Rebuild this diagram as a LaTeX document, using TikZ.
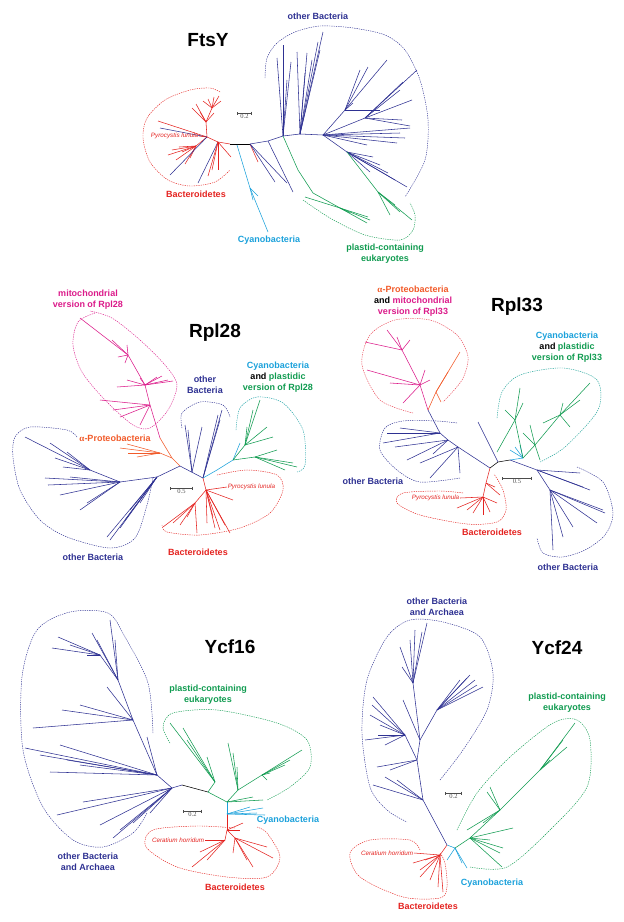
\documentclass[tikz,border=0pt]{standalone}
\usepackage{fontspec}
\setmainfont{Liberation Sans}
\newfontfamily\barfont{Liberation Serif}
\usetikzlibrary{arrows.meta,positioning}
\definecolor{navy}{HTML}{2E3192}
\definecolor{bacred}{HTML}{E42320}
\definecolor{cyano}{HTML}{1BA1DB}
\definecolor{plastid}{HTML}{109B50}
\definecolor{mito}{HTML}{DB1B8A}
\definecolor{alphap}{HTML}{F15A29}
\begin{document}
\begin{tikzpicture}[x=1pt,y=-1pt,line width=0.55pt,
   hull/.style={dash pattern=on 1.3pt off 1pt,line width=0.45pt},
   ttl/.style={font=\fontsize{19}{19}\selectfont\bfseries,inner sep=0pt},
   lbl/.style={font=\fontsize{9}{11}\selectfont\bfseries,align=center,inner sep=0pt},
   spc/.style={font=\fontsize{6.3}{7}\selectfont\itshape,text=bacred,inner sep=0.5pt},
   sbar/.style={{Bar[width=3pt]}-{Bar[width=3pt]},black!70,line width=0.6pt},
   sval/.style={font=\barfont\fontsize{6.5}{7}\selectfont,below=1pt,inner sep=0pt}]
  \useasboundingbox (0,0) rectangle (624,922);

  % ---------------- FtsY ----------------
  \node[ttl] (ftsy) at (208,40) {FtsY};
  \coordinate (sf1) at (237,113); \coordinate (sf2) at (252,113);
  \draw[sbar] (sf1) -- (sf2) node[sval,midway] {0.2};
  \coordinate (f0) at (230,144);  \coordinate (f1) at (250,144);
  \coordinate (fr1) at (218,142); \coordinate (fr2) at (207,137);
  \coordinate (fr3) at (206,122); \coordinate (fr4) at (212,108);
  \coordinate (fr5) at (196,146);
  \coordinate (fb1) at (268,141); \coordinate (fb2) at (283,136);
  \coordinate (fb3) at (300,134); \coordinate (fb4) at (323,135);
  \coordinate (fh1) at (345,110); \coordinate (fh2) at (365,118);
  \coordinate (fh3) at (347,152);
  \coordinate (fc1) at (237,145); \coordinate (fc2) at (250,188);
  \coordinate (fg1) at (298,170); \coordinate (fg2) at (313,193);
  \coordinate (fg3) at (340,208); \coordinate (fg4) at (378,192);
  \draw (f0) -- (f1);
  \draw[bacred] (f0) -- (fr1) -- (fr2) -- (fr3) -- (fr4);
  \foreach \p in {(192,108),(196,104),(200,112),(214,113)} \draw[bacred] (fr3) -- \p;
  \foreach \p in {(203,101),(208,99),(214,97),(219,96),(221,101)} \draw[bacred] (fr4) -- \p;
  \draw[bacred] (fr2) -- (158,121);
  \draw[navy] (fr2) -- (160,128);
  \draw[bacred] (fr2) -- (199,136) node[spc,anchor=east] {Pyrocystis lunula};
  \draw[bacred] (fr2) -- (fr5);
  \foreach \p in {(168,155),(172,150),(176,160),(182,152),(185,164),(190,158),(179,147)} \draw[bacred] (fr5) -- \p;
  \draw[navy] (fr2) -- (170,175);
  \draw[navy] (fr1) -- (198,183);
  \foreach \p in {(208,176),(212,170),(218,170),(231,157)} \draw[bacred] (fr1) -- \p;
  \draw[cyano] (fc1) -- (fc2) -- (268,232);
  \foreach \p in {(253,200),(258,196)} \draw[cyano] (fc2) -- \p;
  \draw[bacred] (f1) -- (258,162);
  \foreach \p in {(275,182),(287,183)} \draw[navy] (f1) -- \p;
  \draw[navy] (fb1) -- (293,192);
  \draw[navy] (f1) -- (fb1) -- (fb2) -- (fb3) -- (fb4);
  \foreach \p in {(283,45),(277,58),(287,80),(291,62)} \draw[navy] (fb2) -- \p;
  \foreach \p in {(297,52),(305,73),(307,53),(312,60),(318,42),(320,50),(323,32)} \draw[navy] (fb3) -- \p;
  \draw[navy] (fb4) -- (fh1) (fb4) -- (fh2) (fb4) -- (fh3);
  \foreach \p in {(387,60),(368,67),(360,70),(353,103),(380,110)} \draw[navy] (fh1) -- \p;
  \foreach \p in {(417,70),(403,82),(400,90),(412,100),(402,120),(410,126)} \draw[navy] (fh2) -- \p;
  \foreach \p in {(410,128),(400,133),(405,138),(397,143),(367,145)} \draw[navy] (fb4) -- \p;
  \foreach \p in {(373,157),(380,165),(388,173),(395,180),(407,187),(370,172)} \draw[navy] (fh3) -- \p;
  \draw[plastid] (fb2) -- (fg1) -- (fg2) -- (fg3) -- (370,220);
  \foreach \p in {(305,197),(350,213),(368,217),(367,223)} \draw[plastid] (fg3) -- \p;
  \draw[plastid] (fh3) -- (fg4) -- (412,220);
  \foreach \p in {(390,215),(400,212),(395,205)} \draw[plastid] (fg4) -- \p;
  \draw[hull,navy] plot[smooth] coordinates {(265,78) (267,58) (277,43) (295,32) (320,26)
     (353,28) (385,35) (405,50) (420,80) (428,120) (425,160) (405,197)};
  \draw[hull,bacred] plot[smooth] coordinates {(220,92) (210,88) (190,90) (165,100) (147,118)
     (143,138) (150,162) (168,180) (190,186) (215,182) (230,170)};
  \draw[hull,plastid] plot[smooth] coordinates {(303,200) (330,218) (365,235) (400,240)
     (413,230) (415,215) (410,203)};
  \node[lbl,text=navy] (fobac) at (318,16) {other Bacteria};
  \node[lbl,text=bacred] (fbact) at (196,194) {Bacteroidetes};
  \node[lbl,text=cyano] (fcyan) at (269,240) {Cyanobacteria};
  \node[lbl,text=plastid] (fplas) at (385,254) {plastid-containing\\eukaryotes};

  % ---------------- Rpl28 ----------------
  \node[ttl] (rpl28) at (215,333) {Rpl28};
  \coordinate (sr1) at (170,488); \coordinate (sr2) at (193,488);
  \draw[sbar] (sr1) -- (sr2) node[sval,midway] {0.5};
  \coordinate (r0) at (180,466);  \coordinate (r1) at (203,478);
  \coordinate (rmid) at (192,472);
  \coordinate (ra1) at (172,458); \coordinate (ra2) at (160,438);
  \coordinate (ro) at (160,453);
  \coordinate (rm1) at (150,405); \coordinate (rm2) at (145,385);
  \coordinate (rm3) at (128,355);
  \coordinate (rl1) at (157,477); \coordinate (rl2) at (120,482);
  \coordinate (rl3) at (90,470);
  \coordinate (rc1) at (217,470); \coordinate (rc2) at (233,460);
  \coordinate (rg1) at (245,445); \coordinate (rg2) at (255,457);
  \coordinate (rr1) at (206,490); \coordinate (rr2) at (195,503);
  \draw[navy] (r0) -- (r1);
  \draw[alphap] (r0) -- (ra1) -- (ra2);
  \draw[alphap] (ra1) -- (ro);
  \foreach \p in {(120,448),(127,444),(128,453),(137,457)} \draw[alphap] (ro) -- \p;
  \draw[mito] (ra2) -- (rm1) -- (rm2) -- (rm3) -- (80,318);
  \foreach \p in {(100,400),(113,410),(120,417),(140,425)} \draw[mito] (rm1) -- \p;
  \foreach \p in {(117,387),(127,380),(140,378),(157,377),(162,376),(168,380),(173,381)} \draw[mito] (rm2) -- \p;
  \foreach \p in {(127,345),(125,363),(118,357),(112,340)} \draw[mito] (rm3) -- \p;
  \draw[navy] (r0) -- (rl1) -- (rl2) -- (rl3);
  \foreach \p in {(25,437),(50,443),(67,452),(63,467),(55,458)} \draw[navy] (rl3) -- \p;
  \foreach \p in {(48,485),(45,478),(70,477),(80,510),(87,503),(60,495)} \draw[navy] (rl2) -- \p;
  \foreach \p in {(107,537),(110,540),(125,520),(130,510),(140,503),(120,528)} \draw[navy] (rl1) -- \p;
  \foreach \p in {(185,425),(188,430),(202,427)} \draw[navy] (rmid) -- \p;
  \foreach \p in {(218,415),(222,410),(220,420)} \draw[navy] (r1) -- \p;
  \draw[cyano] (r1) -- (rc1) -- (rc2);
  \draw[cyano] (rc2) -- (240,443);
  \draw[plastid] (rc2) -- (rg1) (rc2) -- (rg2);
  \foreach \p in {(260,400),(253,410),(267,427),(247,427),(273,437)} \draw[plastid] (rg1) -- \p;
  \foreach \p in {(277,450),(297,467),(293,463),(285,470)} \draw[plastid] (rg2) -- \p;
  \draw[bacred] (r1) -- (rr1) -- (rr2);
  \foreach \p in {(163,527),(173,523),(180,525),(187,517),(197,533)} \draw[bacred] (rr2) -- \p;
  \foreach \p in {(207,523),(213,517),(215,528),(220,530),(225,525),(230,533),(233,500)} \draw[bacred] (rr1) -- \p;
  \draw[bacred] (rr1) -- (227,487) node[spc,anchor=west] {Pyrocystis lunula};
  \draw[hull,mito] plot[smooth] coordinates {(95,313) (78,322) (73,345) (82,372) (105,400)
     (133,425) (150,428) (168,410) (177,385) (165,365) (140,340) (112,318) (90,311)};
  \draw[hull,navy] plot[smooth] coordinates {(182,428) (182,413) (200,402) (223,405) (230,417)};
  \draw[hull,cyano!60!plastid] plot[smooth] coordinates {(236,430) (240,408) (257,397)
     (283,403) (303,430) (305,465) (297,472)};
  \draw[hull,bacred] plot[smooth] coordinates {(217,475) (247,470) (277,475) (283,490)
     (270,513) (240,528) (200,535) (167,532) (162,525)};
  \draw[hull,navy] plot[smooth] coordinates {(77,437) (67,430) (30,427) (15,437) (13,457)
     (20,490) (40,520) (67,537) (110,548) (135,538) (147,505) (153,478)};
  \node[lbl,text=mito] (rmito) at (88,300) {mitochondrial\\version of Rpl28};
  \node[lbl,text=navy] (robac) at (205,385) {other\\Bacteria};
  \node[lbl] (rcyan) at (278,377) {{\color{cyano}Cyanobacteria}\\and {\color{plastid}plastidic}\\
     {\color{plastid}version of Rpl28}};
  \node[lbl,text=alphap] (ralph) at (115,438) {{\barfont α}-Proteobacteria};
  \node[lbl,text=navy] (robac2) at (93,557) {other Bacteria};
  \node[lbl,text=bacred] (rbact) at (198,552) {Bacteroidetes};

  % ---------------- Rpl33 ----------------
  \node[ttl] (rpl33) at (517,307) {Rpl33};
  \coordinate (sq1) at (502,478); \coordinate (sq2) at (532,478);
  \draw[sbar] (sq1) -- (sq2) node[sval,midway] {0.5};
  \coordinate (q0) at (490,468);  \coordinate (q1) at (498,462);
  \coordinate (q2) at (510,460);
  \coordinate (qs1) at (458,447); \coordinate (qs2) at (440,433);
  \coordinate (qs3) at (428,410); \coordinate (qsb) at (448,440);
  \coordinate (qm1) at (420,385); \coordinate (qm2) at (402,350);
  \coordinate (qo) at (436,392);
  \coordinate (qc1) at (523,458);
  \coordinate (qg1) at (535,445); \coordinate (qg2) at (560,415);
  \coordinate (qg3) at (515,420);
  \coordinate (qb1) at (537,470); \coordinate (qb2) at (550,490);
  \coordinate (qr1) at (486,483); \coordinate (qr2) at (483,497);
  \draw (q0) -- (q1) -- (q2);
  \draw[navy] (q1) -- (478,422);
  \draw[navy] (q0) -- (qs1) -- (qsb) -- (qs2) -- (qs3);
  \foreach \p in {(460,473),(430,478),(420,463)} \draw[navy] (qs1) -- \p;
  \foreach \p in {(407,460),(395,447),(433,454)} \draw[navy] (qsb) -- \p;
  \foreach \p in {(383,443),(387,433),(400,428)} \draw[navy] (qs2) -- \p;
  \draw[mito] (qs3) -- (qm1) -- (qm2) -- (387,330);
  \foreach \p in {(403,403),(390,383),(367,370),(425,370),(430,380)} \draw[mito] (qm1) -- \p;
  \foreach \p in {(365,342),(397,337),(410,340)} \draw[mito] (qm2) -- \p;
  \draw[alphap] (qs3) -- (qo);
  \foreach \p in {(460,352),(448,372),(441,402)} \draw[alphap] (qo) -- \p;
  \draw[cyano] (q2) -- (qc1);
  \foreach \p in {(510,450),(515,447),(520,445)} \draw[cyano] (qc1) -- \p;
  \draw[plastid] (qc1) -- (qg1) -- (qg2) -- (590,383);
  \foreach \p in {(540,460),(523,433),(530,425)} \draw[plastid] (qg1) -- \p;
  \foreach \p in {(563,403),(570,427),(543,423),(580,400)} \draw[plastid] (qg2) -- \p;
  \draw[plastid] (qc1) -- (qg3);
  \foreach \p in {(520,388),(523,403),(505,410),(497,452)} \draw[plastid] (qg3) -- \p;
  \draw[navy] (q2) -- (qb1) -- (qb2);
  \foreach \p in {(580,473),(590,490),(583,487)} \draw[navy] (qb1) -- \p;
  \foreach \p in {(603,510),(605,513),(597,523),(573,527),(563,537),(553,550)} \draw[navy] (qb2) -- \p;
  \draw[bacred] (q0) -- (qr1) -- (qr2);
  \foreach \p in {(457,508),(467,510),(473,513),(483,515),(490,512),(497,503)} \draw[bacred] (qr2) -- \p;
  \foreach \p in {(495,487),(500,495)} \draw[bacred] (qr1) -- \p;
  \draw[bacred] (qr2) -- (460,498) node[spc,anchor=east] {Pyrocystis lunula};
  \draw[hull,alphap!60!mito] plot[smooth] coordinates {(413,413) (380,400) (362,365) (370,335)
     (395,320) (430,320) (457,335) (468,357) (462,380) (443,402)};
  \draw[hull,navy] plot[smooth] coordinates {(457,423) (437,421) (403,421) (385,428)
     (380,450) (397,470) (420,482) (460,478)};
  \draw[hull,cyano!50!plastid] plot[smooth] coordinates {(497,418) (502,392) (520,375)
     (563,368) (597,380) (598,410) (565,447) (540,462)};
  \draw[hull,bacred] plot[smooth] coordinates {(463,493) (440,491) (403,493) (397,503)
     (420,515) (467,524) (497,522) (506,510) (503,490) (494,474)};
  \draw[hull,navy] plot[smooth] coordinates {(577,467) (603,482) (613,513) (605,535)
     (585,550) (562,557) (543,553) (537,538)};
  \node[lbl] (qalph) at (413,301) {{\color{alphap}{\barfont α}-Proteobacteria}\\
     and {\color{mito}mitochondrial}\\{\color{mito}version of Rpl33}};
  \node[lbl] (qcyan) at (567,347) {{\color{cyano}Cyanobacteria}\\and {\color{plastid}plastidic}\\
     {\color{plastid}version of Rpl33}};
  \node[lbl,text=navy] (qobac) at (373,481) {other Bacteria};
  \node[lbl,text=bacred] (qbact) at (492,532) {Bacteroidetes};
  \node[lbl,text=navy] (qobac2) at (568,567) {other Bacteria};

  % ---------------- Ycf16 ----------------
  \node[ttl] (ycf16) at (230,647) {Ycf16};
  \coordinate (sy1) at (183,811); \coordinate (sy2) at (202,811);
  \draw[sbar] (sy1) -- (sy2) node[sval,midway] {0.2};
  \coordinate (y0) at (182,785);  \coordinate (y1) at (208,792);
  \coordinate (yg0) at (227,802); \coordinate (yc0) at (227,814);
  \coordinate (yr0) at (227,830);
  \coordinate (yb1) at (157,775); \coordinate (yb2) at (133,720);
  \coordinate (yb3) at (118,680); \coordinate (yb4) at (100,655);
  \coordinate (yb5) at (172,788);
  \coordinate (yg1) at (215,782); \coordinate (yg2) at (238,790);
  \coordinate (yg3) at (262,775);
  \coordinate (yr1) at (225,840); \coordinate (yr2) at (235,838);
  \draw (y0) -- (y1);
  \draw[plastid] (y1) -- (yg0);
  \draw[cyano] (yg0) -- (yc0);
  \draw[bacred] (yc0) -- (yr0);
  \draw[navy] (y0) -- (yb5) -- (yb1) -- (yb2) -- (yb3) -- (yb4);
  \foreach \p in {(110,620),(115,640),(92,633),(97,640)} \draw[navy] (yb3) -- \p;
  \foreach \p in {(58,637),(52,648),(87,655),(70,645)} \draw[navy] (yb4) -- \p;
  \foreach \p in {(62,710),(33,728),(107,687),(80,705)} \draw[navy] (yb2) -- \p;
  \foreach \p in {(25,748),(40,755),(50,772),(67,760),(80,765),(60,745),(147,737)} \draw[navy] (yb1) -- \p;
  \foreach \p in {(57,815),(83,802),(100,825),(113,838),(133,823),(150,813),(120,830)} \draw[navy] (yb5) -- \p;
  \draw[plastid] (y1) -- (yg1);
  \foreach \p in {(170,723),(183,728),(187,740),(207,757)} \draw[plastid] (yg1) -- \p;
  \draw[plastid] (yg0) -- (yg2) -- (yg3) -- (302,750);
  \foreach \p in {(228,743),(233,753),(237,767)} \draw[plastid] (yg2) -- \p;
  \foreach \p in {(267,780),(270,773),(285,765),(290,760)} \draw[plastid] (yg3) -- \p;
  \foreach \p in {(253,797),(263,800)} \draw[plastid] (yg0) -- \p;
  \foreach \p in {(263,808),(257,813),(250,807),(265,815)} \draw[cyano] (yc0) -- \p;
  \draw[bacred] (yr0) -- (yr1) (yr0) -- (yr2);
  \draw[bacred] (yr1) -- (205,840) node[spc,anchor=east] {Ceratium horridum};
  \foreach \p in {(192,867),(207,860),(200,852)} \draw[bacred] (yr1) -- \p;
  \foreach \p in {(233,853),(247,860),(253,867),(273,858),(267,847)} \draw[bacred] (yr2) -- \p;
  \foreach \p in {(240,830),(243,823)} \draw[bacred] (yr0) -- \p;
  \draw[hull,navy] plot[smooth] coordinates {(153,733) (148,683) (125,637) (108,613) (70,612)
     (37,630) (22,677) (23,750) (43,807) (73,840) (103,847) (133,833) (147,813)};
  \draw[hull,plastid] plot[smooth] coordinates {(170,743) (163,727) (173,713) (217,710)
     (277,723) (307,740) (310,767) (290,787) (267,800)};
  \draw[hull,bacred] plot[smooth] coordinates {(235,828) (197,826) (153,830) (146,847)
     (177,867) (227,877) (267,877) (280,857) (267,833) (257,827)};
  \node[lbl,text=plastid] (yplas) at (208,695) {plastid-containing\\eukaryotes};
  \node[lbl,text=cyano] (ycyan) at (288,820) {Cyanobacteria};
  \node[lbl,text=bacred] (ybact) at (235,887) {Bacteroidetes};
  \node[lbl,text=navy] (yobac) at (88,862) {other Bacteria\\and Archaea};

  % ---------------- Ycf24 ----------------
  \node[ttl] (ycf24) at (557,648) {Ycf24};
  \coordinate (sz1) at (445,793); \coordinate (sz2) at (462,793);
  \draw[sbar] (sz1) -- (sz2) node[sval,midway] {0.2};
  \coordinate (z0) at (447,845);
  \coordinate (zb1) at (423,800); \coordinate (zb2) at (417,760);
  \coordinate (zb3) at (420,740); \coordinate (zb4) at (413,683);
  \coordinate (zb5) at (437,710); \coordinate (zb6) at (405,735);
  \coordinate (zc) at (455,848);
  \coordinate (zg1) at (470,838); \coordinate (zg2) at (500,810);
  \coordinate (zg3) at (540,770);
  \coordinate (zr1) at (440,855);
  \draw[navy] (z0) -- (zb1) -- (zb2) -- (zb3) -- (zb4) -- (427,623);
  \foreach \p in {(422,632),(400,647),(402,667),(410,640),(415,630)} \draw[navy] (zb4) -- \p;
  \draw[navy] (zb3) -- (zb5);
  \foreach \p in {(467,678),(475,680),(477,685),(483,687),(460,680),(470,675)} \draw[navy] (zb5) -- \p;
  \draw[navy] (zb3) -- (403,700);
  \draw[navy] (zb2) -- (zb6);
  \foreach \p in {(373,697),(372,705),(365,740),(380,725),(370,715),(378,735),(385,745)} \draw[navy] (zb6) -- \p;
  \foreach \p in {(377,767),(390,770)} \draw[navy] (zb2) -- \p;
  \foreach \p in {(373,785),(397,780),(385,777)} \draw[navy] (zb1) -- \p;
  \draw[cyano] (z0) -- (zc);
  \foreach \p in {(467,868),(462,863),(447,860)} \draw[cyano] (zc) -- \p;
  \draw[plastid] (zc) -- (zg1) -- (zg2) -- (zg3) -- (575,723);
  \foreach \p in {(503,848),(500,853),(502,867),(490,840),(513,828)} \draw[plastid] (zg1) -- \p;
  \foreach \p in {(490,787),(487,792),(483,823),(467,830)} \draw[plastid] (zg2) -- \p;
  \foreach \p in {(567,747),(563,740),(550,760)} \draw[plastid] (zg3) -- \p;
  \draw[bacred] (z0) -- (zr1);
  \draw[bacred] (zr1) -- (414,853) node[spc,anchor=east] {Ceratium horridum};
  \foreach \p in {(413,863),(420,870),(420,877),(438,887),(443,892),(430,880),(425,860)} \draw[bacred] (zr1) -- \p;
  \draw[hull,navy] plot[smooth] coordinates {(440,780) (463,750) (487,710) (493,673) (480,637)
     (443,622) (410,620) (387,637) (367,680) (362,733) (370,787) (387,810) (407,822)};
  \draw[hull,plastid] plot[smooth] coordinates {(457,830) (477,793) (510,757) (553,723)
     (577,720) (590,740) (587,787) (550,830) (507,867) (470,867)};
  \draw[hull,bacred] plot[smooth] coordinates {(420,850) (410,840) (370,840) (350,853)
     (360,877) (403,897) (440,898) (447,887) (445,863) (440,853)};
  \node[lbl,text=navy] (zobac) at (437,607) {other Bacteria\\and Archaea};
  \node[lbl,text=plastid] (zplas) at (567,703) {plastid-containing\\eukaryotes};
  \node[lbl,text=cyano] (zcyan) at (492,883) {Cyanobacteria};
  \node[lbl,text=bacred] (zbact) at (428,906) {Bacteroidetes};
\end{tikzpicture}
\end{document}
